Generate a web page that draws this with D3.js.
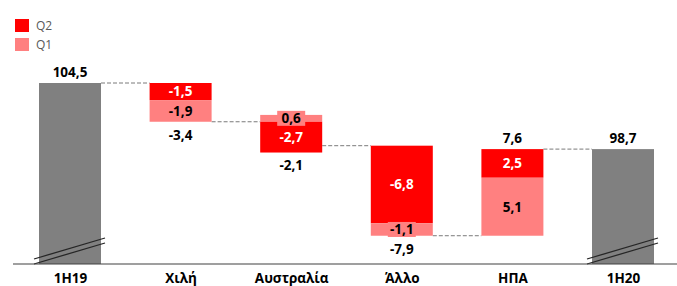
<!DOCTYPE html>
<html>
<head>
<meta charset="utf-8">
<script src="https://d3js.org/d3.v7.min.js"></script>
<style>
    body { margin: 0; background: #fff; }
    text { font-family: "Open Sans", "DejaVu Sans", sans-serif; }
</style>
</head>
<body>
<script>
    // data
    var categories = ["1H19", "Χιλή", "Αυστραλία", "Άλλο", "ΗΠΑ", "1H20"];
    var totals = [104.5, null, null, null, null, 98.7];
    var q1 = [null, -1.9, 0.6, -1.1, 5.1, null];
    var q2 = [null, -1.5, -2.7, -6.8, 2.5, null];
    var legendLabels = ["Q2", "Q1"];

    var w = 677, h = 286;
    var colQ2 = "#ff0000", colQ1 = "#ff8080", colTotal = "#808080";
    var fmt = function(v) { return d3.format(".1f")(v).replace(".", ",").replace("−", "-"); };

    var svg = d3.select("body").append("svg")
        .attr("width", w)
        .attr("height", h);

    var x = d3.scalePoint().domain(categories).range([70, 623]);
    var y = d3.scaleLinear().domain([88.62, 104.5]).range([264, 83]);
    var bw = 62;

    // build waterfall steps
    var steps = [];
    var level = 0;
    categories.forEach(function(c, i) {
        if (totals[i] != null) {
            steps.push({cat: c, total: true, start: totals[i], end: totals[i], segs: []});
            level = totals[i];
            return;
        }
        var segs = [];
        var up = level, down = level;
        // positives stack upward Q1 then Q2, negatives downward Q2 then Q1
        [["Q1", q1[i]], ["Q2", q2[i]]].forEach(function(s) {
            if (s[1] > 0) { segs.push({key: s[0], v: s[1], a: up, b: up + s[1]}); up += s[1]; }
        });
        [["Q2", q2[i]], ["Q1", q1[i]]].forEach(function(s) {
            if (s[1] < 0) { segs.push({key: s[0], v: s[1], a: down, b: down + s[1]}); down += s[1]; }
        });
        var net = q1[i] + q2[i];
        steps.push({cat: c, total: false, start: level, end: level + net, net: net, segs: segs, top: up, bottom: down});
        level = level + net;
    });

    // connectors
    for (var i = 0; i < steps.length - 1; i++) {
        svg.append("line")
            .attr("x1", x(steps[i].cat) + bw / 2)
            .attr("x2", x(steps[i + 1].cat) - bw / 2)
            .attr("y1", y(steps[i].end))
            .attr("y2", y(steps[i].end))
            .attr("stroke", "#7a7a7a")
            .attr("stroke-width", 1)
            .attr("stroke-dasharray", "4,2");
    }

    // total bars
    var tot = steps.filter(function(d) { return d.total; });
    svg.selectAll("rect.total").data(tot).enter().append("rect")
        .attr("class", "total")
        .attr("x", function(d) { return x(d.cat) - bw / 2; })
        .attr("y", function(d) { return y(d.end); })
        .attr("width", bw)
        .attr("height", function(d) { return y.range()[0] - y(d.end); })
        .attr("fill", colTotal);

    // axis break marks
    tot.forEach(function(d) {
        var cx = x(d.cat);
        [[259, 238], [264, 243]].forEach(function(p) {
            svg.append("line")
                .attr("x1", cx - 36).attr("y1", p[0])
                .attr("x2", cx + 35).attr("y2", p[1])
                .attr("stroke", "#262626")
                .attr("stroke-width", 1.3);
        });
    });

    svg.selectAll("text.total").data(tot).enter().append("text")
        .attr("x", function(d) { return x(d.cat); })
        .attr("y", function(d) { return y(d.end) - 6; })
        .attr("text-anchor", "middle")
        .attr("font-size", 13.5)
        .attr("font-weight", "bold")
        .text(function(d) { return fmt(d.end); });

    // change bars
    var chg = steps.filter(function(d) { return !d.total; });
    chg.forEach(function(d) {
        var cx = x(d.cat);
        d.segs.forEach(function(s) {
            svg.append("rect")
                .attr("x", cx - bw / 2)
                .attr("y", y(Math.max(s.a, s.b)))
                .attr("width", bw)
                .attr("height", Math.abs(y(s.a) - y(s.b)))
                .attr("fill", s.key == "Q2" ? colQ2 : colQ1);
        });
        d.segs.forEach(function(s) {
            var yc = (y(s.a) + y(s.b)) / 2;
            var hgt = Math.abs(y(s.a) - y(s.b));
            if (hgt < 15) {
                svg.append("rect")
                    .attr("x", cx - 14)
                    .attr("y", yc - 7.5)
                    .attr("width", 28)
                    .attr("height", 15)
                    .attr("fill", s.key == "Q2" ? colQ2 : colQ1);
            }
            svg.append("text")
                .attr("x", cx)
                .attr("y", yc)
                .attr("dy", "0.36em")
                .attr("text-anchor", "middle")
                .attr("font-size", 13.5)
                .attr("font-weight", "bold")
                .attr("fill", s.key == "Q2" ? "#fff" : "#000")
                .text(fmt(s.v));
        });
        // net label
        var netTxt = svg.append("text")
            .attr("x", cx)
            .attr("text-anchor", "middle")
            .attr("font-size", 13.5)
            .attr("font-weight", "bold")
            .text(fmt(d.net));
        if (d.net < 0) {
            netTxt.attr("y", y(d.bottom) + 5).attr("dy", "0.95em");
        } else {
            netTxt.attr("y", y(d.top) - 6);
        }
    });

    // x axis
    svg.append("line")
        .attr("x1", 13).attr("x2", w)
        .attr("y1", y.range()[0]).attr("y2", y.range()[0])
        .attr("stroke", "#404040")
        .attr("stroke-width", 1.2);

    var xAxis = svg.append("g")
        .attr("transform", "translate(0," + y.range()[0] + ")")
        .call(d3.axisBottom(x).tickSize(0).tickPadding(9));
    xAxis.select(".domain").remove();
    xAxis.selectAll("text")
        .attr("font-family", "'Open Sans', 'DejaVu Sans', sans-serif")
        .attr("font-size", 13.5)
        .attr("font-weight", "bold")
        .attr("fill", "#000");

    // legend
    var legCols = [colQ2, colQ1];
    var leg = svg.selectAll("g.leg").data(legendLabels).enter().append("g")
        .attr("class", "leg")
        .attr("transform", function(d, i) { return "translate(15," + (19 + i * 19) + ")"; });
    leg.append("rect")
        .attr("width", 14).attr("height", 13)
        .attr("fill", function(d, i) { return legCols[i]; });
    leg.append("text")
        .attr("x", 21).attr("y", 6.5).attr("dy", "0.36em")
        .attr("font-size", 12)
        .attr("fill", "#595959")
        .text(function(d) { return d; });
</script>
</body>
</html>
